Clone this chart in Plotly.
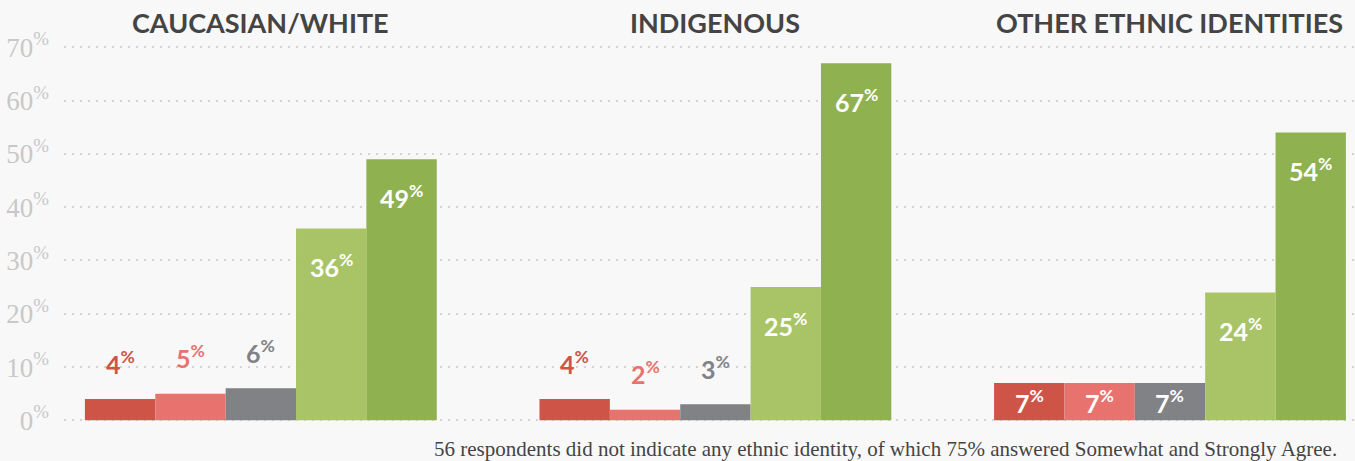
import plotly.graph_objects as go

# ---- data ----
categories = ["CAUCASIAN/WHITE", "INDIGENOUS", "OTHER ETHNIC IDENTITIES"]
series_names = ["Strongly Disagree", "Somewhat Disagree", "Neutral", "Somewhat Agree", "Strongly Agree"]
strongly_disagree = [4, 4, 7]
somewhat_disagree = [5, 2, 7]
neutral = [6, 3, 7]
somewhat_agree = [36, 25, 24]
strongly_agree = [49, 67, 54]
tick_values = [0, 10, 20, 30, 40, 50, 60, 70]
footnote = "56 respondents did not indicate any ethnic identity, of which 75% answered Somewhat and Strongly Agree."

series = [strongly_disagree, somewhat_disagree, neutral, somewhat_agree, strongly_agree]
colors = ["#ce5447", "#e8736e", "#818286", "#a9c467", "#8fb150"]

W, H = 1355, 461
BG = "#f8f8f8"
bargap = 0.226
nser = len(series)
bw = (1 - bargap) / nser
M_L, M_T, M_B = 64, 41.6, 38.3
plot_h = H - M_T - M_B
plot_w = W - M_L


def paper_y(px):
    return (H - M_B - px) / plot_h


def paper_x(px):
    return (px - M_L) / plot_w


fig = go.Figure()
xs = list(range(len(categories)))
for name, vals, col in zip(series_names, series, colors):
    fig.add_trace(go.Bar(x=xs, y=vals, name=name, marker=dict(color=col, line=dict(width=0)),
                         hoverinfo="y"))

annotations = []
label_font = dict(family="Lato", size=25, weight="bold")
for si, (vals, col) in enumerate(zip(series, colors)):
    off = (si - (nser - 1) / 2) * bw
    for ci, v in enumerate(vals):
        txt = f"{v}<sup>%</sup>"
        if v < 7:
            annotations.append(dict(x=ci + off, y=v, xref="x", yref="y", text=txt, showarrow=False,
                                    yanchor="middle", yshift=37, font=dict(label_font, color=col)))
        elif v < 15:
            annotations.append(dict(x=ci + off, y=v / 2, xref="x", yref="y", text=txt, showarrow=False,
                                    yanchor="middle", font=dict(label_font, color="white")))
        else:
            annotations.append(dict(x=ci + off, y=v, xref="x", yref="y", text=txt, showarrow=False,
                                    yanchor="middle", yshift=-37, font=dict(label_font, color="white")))

# group titles
for ci, cat in enumerate(categories):
    annotations.append(dict(x=ci, y=paper_y(22), xref="x", yref="paper", text=f"<b>{cat}</b>",
                            showarrow=False, yanchor="middle", xanchor="center",
                            font=dict(family="Lato", size=27, color="#444444")))

# footnote
annotations.append(dict(x=paper_x(432), y=paper_y(449), xref="paper", yref="paper", text=footnote,
                        showarrow=False, xanchor="left", yanchor="middle",
                        font=dict(family="Liberation Serif", size=21, color="#444444")))

fig.update_layout(
    width=W, height=H,
    paper_bgcolor=BG, plot_bgcolor=BG,
    barmode="group", bargap=bargap, bargroupgap=0,
    showlegend=False,
    margin=dict(l=M_L, r=0, t=M_T, b=M_B, pad=0),
    annotations=annotations,
    xaxis=dict(range=[-0.433, 2.407], showticklabels=False, showgrid=False, zeroline=False,
               showline=False, ticks=""),
    yaxis=dict(range=[-0.5, 71], tickvals=tick_values,
               ticktext=[f"{t}<sup>%</sup>" for t in tick_values],
               tickfont=dict(family="Liberation Serif", size=27, color="#c8c8c8"),
               showgrid=True, gridcolor="#d4d4d4", gridwidth=2, griddash="2px,6px",
               zeroline=False, showline=False, ticks="", ticklabelstandoff=14),
)

fig.write_html("out.html", config={"displayModeBar": False},
               post_script="document.body.style.margin='0';document.body.style.background='#f8f8f8';")
